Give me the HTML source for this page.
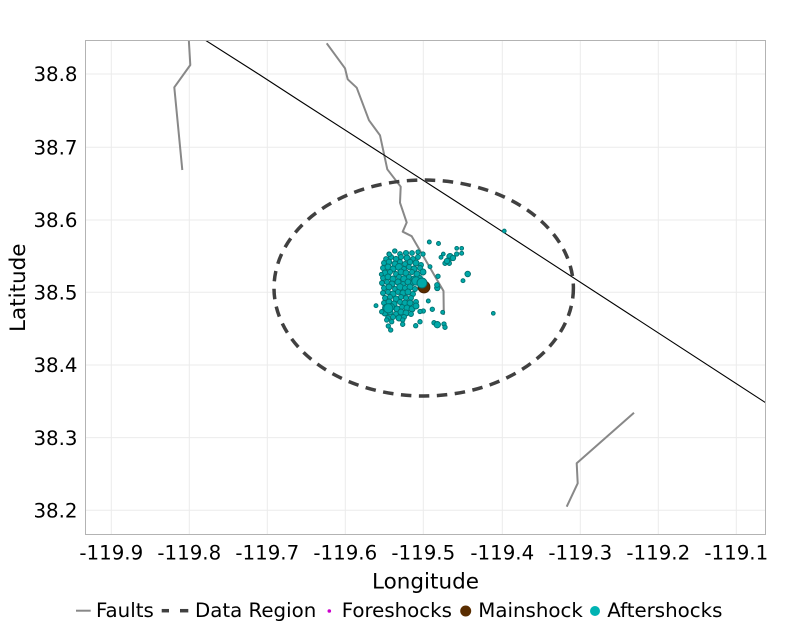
<!DOCTYPE html>
<html><head><meta charset="utf-8"><style>
html,body{margin:0;padding:0;background:#fff;}
svg{display:block;font-family:"DejaVu Sans","Liberation Sans",sans-serif;}
</style></head><body>
<svg width="800" height="626" viewBox="0 0 800 626" xmlns="http://www.w3.org/2000/svg">
<defs><clipPath id="pc"><rect x="85.5" y="40.5" width="680" height="494"/></clipPath></defs>
<rect width="800" height="626" fill="#fff"/>
<g stroke="#ebebeb" stroke-width="1">
<line x1="111.3" y1="40.5" x2="111.3" y2="534.5"/><line x1="189.3" y1="40.5" x2="189.3" y2="534.5"/>
<line x1="267.3" y1="40.5" x2="267.3" y2="534.5"/><line x1="345.3" y1="40.5" x2="345.3" y2="534.5"/>
<line x1="423.3" y1="40.5" x2="423.3" y2="534.5"/><line x1="502.3" y1="40.5" x2="502.3" y2="534.5"/>
<line x1="580.3" y1="40.5" x2="580.3" y2="534.5"/><line x1="658.3" y1="40.5" x2="658.3" y2="534.5"/>
<line x1="736.3" y1="40.5" x2="736.3" y2="534.5"/>
<line x1="85.5" y1="74" x2="765.5" y2="74"/><line x1="85.5" y1="147.3" x2="765.5" y2="147.3"/>
<line x1="85.5" y1="220" x2="765.5" y2="220"/><line x1="85.5" y1="292.3" x2="765.5" y2="292.3"/>
<line x1="85.5" y1="365" x2="765.5" y2="365"/><line x1="85.5" y1="437.6" x2="765.5" y2="437.6"/>
<line x1="85.5" y1="510.3" x2="765.5" y2="510.3"/>
</g>
<g clip-path="url(#pc)">
<g fill="none" stroke="#888888" stroke-width="2" stroke-linejoin="round">
<polyline points="188.7,38 190.3,65 174.3,87.3 182.3,170"/>
<polyline points="326.7,43.3 345,68.3 347.7,79.3 356.7,87.7 369,120.3 380,135.3 387.3,169.3 400.7,186.7 400,202.7 406.7,222.5 402.7,231.7 411.7,236.2 443.5,291 443.8,315"/>
<polyline points="634,412.7 576.7,463.3 577.7,483.3 566.7,506.7"/>
</g>
<polyline points="203,38.7 260,75 300,101 460,204 767,403.6" fill="none" stroke="#000" stroke-width="1.1"/>
<ellipse cx="423.7" cy="288" rx="149.7" ry="108" fill="none" stroke="#404040" stroke-width="3.5" stroke-dasharray="10.5 7.5"/>
<g fill="#00a8a8" stroke="#007070" stroke-width="0.9">
<circle cx="389" cy="254" r="2.2"/><circle cx="395" cy="251" r="2"/><circle cx="400" cy="254" r="2.4"/><circle cx="406" cy="253" r="2.6"/><circle cx="412" cy="253" r="2.4"/><circle cx="418" cy="252" r="2.2"/><circle cx="423" cy="254" r="2.2"/><circle cx="429.3" cy="242" r="2"/><circle cx="438.5" cy="243.5" r="2"/>
<circle cx="386" cy="259" r="2.4"/><circle cx="391" cy="257" r="2.6"/><circle cx="396" cy="259" r="2.7"/><circle cx="401" cy="257" r="2.5"/><circle cx="407" cy="258" r="3"/><circle cx="413" cy="259" r="2.5"/><circle cx="418" cy="257" r="2.5"/>
<circle cx="384" cy="263" r="2.5"/><circle cx="389" cy="262" r="2.8"/><circle cx="395" cy="264" r="3"/><circle cx="400" cy="262" r="2.5"/><circle cx="405" cy="264" r="2.5"/><circle cx="410" cy="262" r="2.7"/><circle cx="416" cy="263" r="3"/><circle cx="421" cy="265" r="2.5"/>
<circle cx="383" cy="268" r="2.5"/><circle cx="388" cy="267" r="3"/><circle cx="393" cy="269" r="3"/><circle cx="399" cy="267" r="3.5"/><circle cx="404" cy="269" r="2.5"/><circle cx="409" cy="267" r="2.5"/><circle cx="414" cy="269" r="3"/><circle cx="420" cy="268" r="2.5"/>
<circle cx="385" cy="273" r="3"/><circle cx="390" cy="272" r="2.5"/><circle cx="396" cy="274" r="2.5"/><circle cx="401" cy="272" r="3"/><circle cx="406" cy="273" r="3"/><circle cx="412" cy="272" r="2.5"/><circle cx="417" cy="274" r="3"/><circle cx="423" cy="272" r="3"/>
<circle cx="383" cy="278" r="2.5"/><circle cx="388" cy="277" r="3"/><circle cx="393" cy="279" r="3"/><circle cx="399" cy="277" r="2.5"/><circle cx="404" cy="279" r="3.3"/><circle cx="409" cy="277" r="2.5"/><circle cx="414" cy="279" r="3"/><circle cx="420" cy="278" r="2.5"/>
<circle cx="382" cy="283" r="2.5"/><circle cx="387" cy="282" r="2.5"/><circle cx="392" cy="284" r="3"/><circle cx="398" cy="282" r="3"/><circle cx="403" cy="284" r="2.5"/><circle cx="408" cy="282" r="3"/><circle cx="413" cy="283" r="2.5"/>
<circle cx="384" cy="288" r="2.5"/><circle cx="389" cy="287" r="3"/><circle cx="395" cy="289" r="2.5"/><circle cx="400" cy="287" r="3.3"/><circle cx="405" cy="288" r="2.5"/><circle cx="410" cy="287" r="3"/><circle cx="415" cy="289" r="2.5"/>
<circle cx="383" cy="293" r="2.5"/><circle cx="388" cy="292" r="2.5"/><circle cx="393" cy="294" r="3"/><circle cx="398" cy="292" r="2.5"/><circle cx="403" cy="293" r="3"/><circle cx="408" cy="292" r="3"/><circle cx="413" cy="294" r="2.5"/>
<circle cx="385" cy="298" r="2.5"/><circle cx="390" cy="297" r="2.5"/><circle cx="396" cy="299" r="3"/><circle cx="401" cy="297" r="2.5"/><circle cx="406" cy="298" r="2.5"/><circle cx="411" cy="298" r="2.5"/>
<circle cx="384" cy="303" r="2.5"/><circle cx="389" cy="302" r="3"/><circle cx="394" cy="304" r="3"/><circle cx="400" cy="302" r="2.5"/><circle cx="405" cy="303" r="3"/><circle cx="410" cy="303" r="3"/><circle cx="416" cy="302" r="2.5"/>
<circle cx="386" cy="308" r="3.5"/><circle cx="391" cy="307" r="3.5"/><circle cx="397" cy="309" r="3"/><circle cx="402" cy="307" r="2.5"/><circle cx="407" cy="308" r="3"/><circle cx="412" cy="309" r="3"/><circle cx="416" cy="306" r="3"/>
<circle cx="385" cy="313" r="3"/><circle cx="390" cy="312" r="3"/><circle cx="396" cy="314" r="2.5"/><circle cx="401" cy="312" r="3"/><circle cx="406" cy="313" r="3"/><circle cx="411" cy="314" r="2.5"/>
<circle cx="388" cy="318" r="2.5"/><circle cx="393" cy="317" r="2.5"/><circle cx="399" cy="318" r="3"/><circle cx="404" cy="317" r="2.5"/>
<circle cx="388.3" cy="308.3" r="4.6"/><circle cx="416" cy="281" r="4.2"/>
<circle cx="430" cy="266.7" r="2"/><circle cx="438" cy="276.3" r="2.2"/><circle cx="437.3" cy="288" r="2.7"/><circle cx="437" cy="285" r="2.4"/><circle cx="428.3" cy="301" r="2"/><circle cx="432.3" cy="309.3" r="2.2"/><circle cx="442.7" cy="312.3" r="2"/><circle cx="423.3" cy="311" r="2.2"/><circle cx="420" cy="311.5" r="2.2"/>
<circle cx="456.7" cy="248.3" r="1.9"/><circle cx="461.7" cy="248.3" r="1.9"/><circle cx="461.7" cy="253.3" r="2"/><circle cx="456.7" cy="254" r="2.2"/><circle cx="441" cy="257.3" r="2"/><circle cx="443.3" cy="254" r="1.9"/><circle cx="450" cy="256.7" r="3.2"/><circle cx="453" cy="258" r="2.7"/><circle cx="448.3" cy="260.7" r="2.7"/><circle cx="445" cy="263.3" r="2.2"/><circle cx="449.3" cy="263.3" r="2.2"/><circle cx="447" cy="261" r="2.7"/>
<circle cx="467.7" cy="274" r="2.8"/><circle cx="463" cy="280.7" r="2"/><circle cx="493.3" cy="313.3" r="1.9"/><circle cx="504.3" cy="231" r="1.9"/>
<circle cx="434" cy="322.7" r="2.2"/><circle cx="437.3" cy="324.7" r="3.2"/><circle cx="444" cy="324" r="2.2"/><circle cx="445" cy="327.3" r="2.2"/><circle cx="420" cy="321.7" r="2.2"/><circle cx="415.7" cy="325.7" r="2.2"/><circle cx="402.7" cy="320" r="2.2"/><circle cx="402.7" cy="324.3" r="2.2"/><circle cx="391.7" cy="321.7" r="2.2"/><circle cx="388.3" cy="326" r="2.2"/><circle cx="390.7" cy="330" r="2.2"/><circle cx="386.7" cy="320" r="2.2"/><circle cx="376" cy="305.7" r="2"/><circle cx="381.7" cy="311.7" r="2.2"/><circle cx="381.3" cy="274.3" r="2"/><circle cx="389.3" cy="254.3" r="2.2"/><circle cx="394.7" cy="251" r="2.2"/>
</g>
<circle cx="424" cy="287" r="6" fill="#5a2d00" stroke="#3a1c00" stroke-width="0.8"/>
<circle cx="422" cy="283" r="5" fill="#00a8a8" stroke="#007070" stroke-width="0.9"/>
</g>
<rect x="85.5" y="40.5" width="680" height="494" fill="none" stroke="#b3b3b3" stroke-width="1"/>
<g font-size="19.8" fill="#000" text-anchor="end">
<text x="77.5" y="81.2">38.8</text><text x="77.5" y="154.5">38.7</text><text x="77.5" y="227.2">38.6</text>
<text x="77.5" y="299.5">38.5</text><text x="77.5" y="372.2">38.4</text><text x="77.5" y="444.8">38.3</text>
<text x="77.5" y="517.5">38.2</text>
</g>
<g font-size="19.8" fill="#000" text-anchor="middle">
<text x="111.3" y="559.3">-119.9</text><text x="189.3" y="559.3">-119.8</text><text x="267.3" y="559.3">-119.7</text>
<text x="345.3" y="559.3">-119.6</text><text x="423.3" y="559.3">-119.5</text><text x="502.3" y="559.3">-119.4</text>
<text x="580.3" y="559.3">-119.3</text><text x="658.3" y="559.3">-119.2</text><text x="736.3" y="559.3">-119.1</text>
</g>
<text x="425.5" y="588.3" font-size="21.5" text-anchor="middle">Longitude</text>
<text transform="translate(25,287.7) rotate(-90)" font-size="21.5" text-anchor="middle">Latitude</text>
<g font-size="19.8" fill="#000">
<line x1="76" y1="610.7" x2="90.7" y2="610.7" stroke="#888888" stroke-width="2"/>
<text x="96" y="617">Faults</text>
<line x1="161.7" y1="610.7" x2="169" y2="610.7" stroke="#404040" stroke-width="3.5"/>
<line x1="180" y1="610.7" x2="188.3" y2="610.7" stroke="#404040" stroke-width="3.5"/>
<text x="195" y="617">Data Region</text>
<circle cx="329.3" cy="611" r="1.8" fill="#cc00cc"/>
<text x="341.7" y="617">Foreshocks</text>
<circle cx="465.7" cy="611" r="5.5" fill="#5a2d00"/>
<text x="478.3" y="617">Mainshock</text>
<circle cx="595" cy="611" r="5" fill="#00b3b3"/>
<text x="607.3" y="617">Aftershocks</text>
</g>
</svg>
</body></html>
